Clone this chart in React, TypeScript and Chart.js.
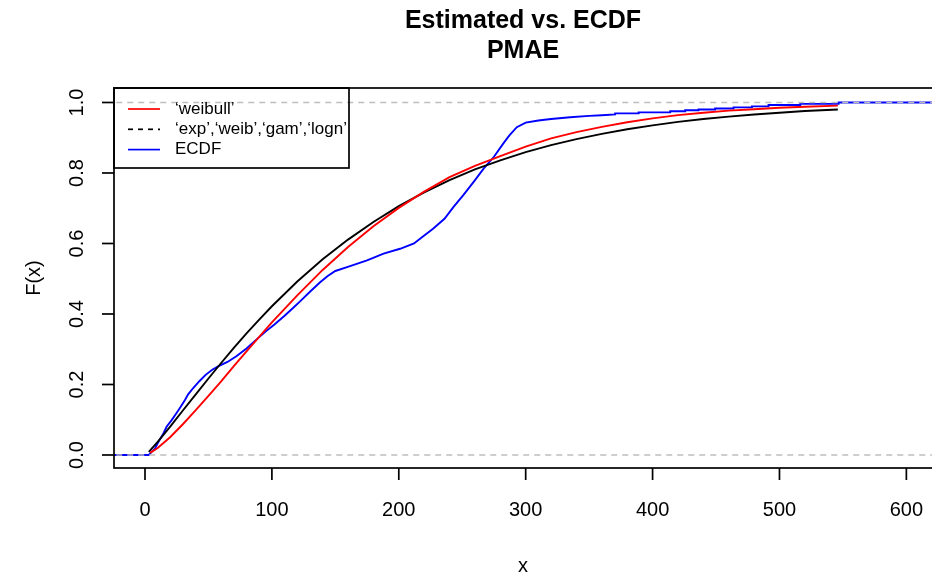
import React, { useEffect, useRef } from "react";
import { Chart, registerables } from "chart.js";

Chart.register(...registerables);

const titleLines = ["Estimated vs. ECDF", "PMAE"];
const xAxisTitle = "x";
const yAxisTitle = "F(x)";
const xTicks = [0, 100, 200, 300, 400, 500, 600];
const yTicks = [0, 0.2, 0.4, 0.6, 0.8, 1.0];
const yTickLabels = ["0.0", "0.2", "0.4", "0.6", "0.8", "1.0"];
const legendLabels = ["\u2018weibull\u2019", "\u2018exp\u2019,\u2018weib\u2019,\u2018gam\u2019,\u2018logn\u2019", "ECDF"];

const weibullX = [4, 10, 20, 30, 40, 50, 60, 70, 80, 90, 100, 120, 140, 160, 180, 200, 220, 240, 260, 280, 300, 320, 340, 360, 380, 400, 420, 440, 460, 480, 500, 520, 546];
const weibullY = [0.006, 0.02, 0.051, 0.088, 0.127, 0.168, 0.209, 0.252, 0.294, 0.335, 0.376, 0.453, 0.525, 0.59, 0.649, 0.701, 0.747, 0.788, 0.82, 0.848, 0.875, 0.898, 0.916, 0.931, 0.944, 0.955, 0.964, 0.971, 0.977, 0.981, 0.985, 0.988, 0.991];

const multiX = [3, 10, 20, 30, 40, 50, 60, 70, 80, 90, 100, 120, 140, 160, 180, 200, 220, 240, 260, 280, 300, 320, 340, 360, 380, 400, 420, 440, 460, 480, 500, 520, 546];
const multiY = [0.009, 0.037, 0.081, 0.127, 0.172, 0.217, 0.261, 0.304, 0.345, 0.384, 0.422, 0.492, 0.555, 0.611, 0.661, 0.706, 0.745, 0.78, 0.81, 0.836, 0.859, 0.879, 0.896, 0.911, 0.924, 0.935, 0.945, 0.953, 0.96, 0.966, 0.971, 0.976, 0.98];

const ecdfX = [-40, 3, 5, 8, 11, 14.5, 17, 21, 25, 28, 31.5, 34, 38, 43, 48, 53, 58, 65, 72, 80, 88, 95, 102, 110, 116, 122, 130, 138, 144, 150, 161, 175, 188, 201, 212, 218, 227, 236, 243, 251, 259, 267, 275, 282, 287, 293, 300, 310, 320, 335, 350, 360, 370.5, 370.5, 389, 389, 413.9, 413.9, 425.7, 425.7, 436.2, 436.2, 449.3, 449.3, 463.8, 463.8, 478.3, 478.3, 491.4, 491.4, 516.4, 516.4, 546.6, 546.6, 650];
const ecdfY = [0, 0, 0.008, 0.019, 0.04, 0.061, 0.08, 0.099, 0.12, 0.136, 0.156, 0.172, 0.19, 0.21, 0.228, 0.242, 0.252, 0.264, 0.28, 0.302, 0.328, 0.35, 0.37, 0.395, 0.415, 0.435, 0.463, 0.49, 0.508, 0.522, 0.535, 0.552, 0.571, 0.585, 0.6, 0.617, 0.642, 0.67, 0.703, 0.738, 0.775, 0.813, 0.846, 0.882, 0.906, 0.93, 0.943, 0.949, 0.953, 0.958, 0.962, 0.964, 0.966, 0.969, 0.969, 0.972, 0.972, 0.975, 0.975, 0.978, 0.978, 0.98, 0.98, 0.983, 0.983, 0.986, 0.986, 0.989, 0.989, 0.993, 0.993, 0.996, 0.996, 1.0, 1.0];

const refLevels = [0, 1];
const refSpan = [-40, 650];

const xLimits = [-24.43, 620.2];
const yLimits = [-0.0369, 1.0411];

const FONT = "'Liberation Sans', Arial, Helvetica, sans-serif";

const zip = (xs: number[], ys: number[]) => xs.map((x, i) => ({ x, y: ys[i] }));

const decorPlugin = {
  id: "decor",
  afterDraw(chart: any) {
    const ctx = chart.ctx as CanvasRenderingContext2D;
    const { left, right, top, bottom } = chart.chartArea;
    const xs = chart.scales.x;
    const ys = chart.scales.y;
    ctx.save();
    ctx.strokeStyle = "#000";
    ctx.fillStyle = "#000";
    ctx.lineWidth = 1.7;
    // plot box (right side lies beyond the canvas edge)
    ctx.strokeRect(left, top, right - left + 6, bottom - top);

    // x ticks
    ctx.font = `20px ${FONT}`;
    ctx.textAlign = "center";
    ctx.textBaseline = "alphabetic";
    xTicks.forEach((v) => {
      const px = xs.getPixelForValue(v);
      ctx.beginPath();
      ctx.moveTo(px, bottom);
      ctx.lineTo(px, bottom + 12);
      ctx.stroke();
      ctx.fillText(String(v), px, bottom + 48);
    });
    // y ticks
    yTicks.forEach((v, i) => {
      const py = ys.getPixelForValue(v);
      ctx.beginPath();
      ctx.moveTo(left, py);
      ctx.lineTo(left - 12, py);
      ctx.stroke();
      ctx.save();
      ctx.translate(left - 31, py);
      ctx.rotate(-Math.PI / 2);
      ctx.fillText(yTickLabels[i], 0, 0);
      ctx.restore();
    });
    // axis titles
    ctx.fillText(xAxisTitle, (left + right) / 2, bottom + 104);
    ctx.save();
    ctx.translate(left - 74, (top + bottom) / 2);
    ctx.rotate(-Math.PI / 2);
    ctx.fillText(yAxisTitle, 0, 0);
    ctx.restore();

    // title
    ctx.font = `bold 25px ${FONT}`;
    ctx.fillText(titleLines[0], (left + right) / 2, 28);
    ctx.fillText(titleLines[1], (left + right) / 2, 58);

    // legend
    const ds = chart.data.datasets;
    const legendColors = [ds[0].borderColor, ds[1].borderColor, ds[2].borderColor];
    const legendDash = [[], [5, 5], []];
    ctx.lineWidth = 1.7;
    ctx.strokeStyle = "#000";
    ctx.strokeRect(left, top, 235, 80);
    ctx.font = `17px ${FONT}`;
    ctx.textAlign = "left";
    ctx.textBaseline = "middle";
    legendLabels.forEach((lab, i) => {
      const cy = top + 21 + i * 20.3;
      ctx.save();
      ctx.strokeStyle = legendColors[i];
      ctx.setLineDash(legendDash[i]);
      ctx.beginPath();
      ctx.moveTo(left + 14, cy);
      ctx.lineTo(left + 46, cy);
      ctx.stroke();
      ctx.restore();
      ctx.fillText(lab, left + 61, cy);
    });
    ctx.restore();
  },
};

export default function App() {
  const ref = useRef<HTMLCanvasElement | null>(null);
  useEffect(() => {
    document.body.style.margin = "0";
    const canvas = ref.current;
    if (!canvas) return;
    const refDatasets = refLevels.map((lv) => ({
      label: "ref" + lv,
      data: zip(refSpan, refSpan.map(() => lv)),
      borderColor: "#bebebe",
      borderWidth: 1.7,
      borderDash: [6, 5],
      pointRadius: 0,
      order: 0,
    }));
    const chart = new Chart(canvas, {
      type: "line",
      data: {
        datasets: [
          { label: legendLabels[0], data: zip(weibullX, weibullY), borderColor: "#ff0000", borderWidth: 1.9, pointRadius: 0, order: 2 },
          { label: legendLabels[1], data: zip(multiX, multiY), borderColor: "#000000", borderWidth: 1.9, pointRadius: 0, order: 3 },
          { label: legendLabels[2], data: zip(ecdfX, ecdfY), borderColor: "#0000ff", borderWidth: 1.9, pointRadius: 0, order: 4 },
          ...refDatasets,
        ],
      },
      options: {
        animation: false,
        responsive: false,
        events: [],
        layout: { padding: { left: 114, right: 0, top: 88, bottom: 110 } },
        plugins: { legend: { display: false }, title: { display: false }, tooltip: { enabled: false } },
        scales: {
          x: { type: "linear", min: xLimits[0], max: xLimits[1], display: false },
          y: { type: "linear", min: yLimits[0], max: yLimits[1], display: false },
        },
      },
      plugins: [decorPlugin],
    });
    return () => chart.destroy();
  }, []);
  return <canvas ref={ref} width={932} height={578} style={{ display: "block" }} />;
}
